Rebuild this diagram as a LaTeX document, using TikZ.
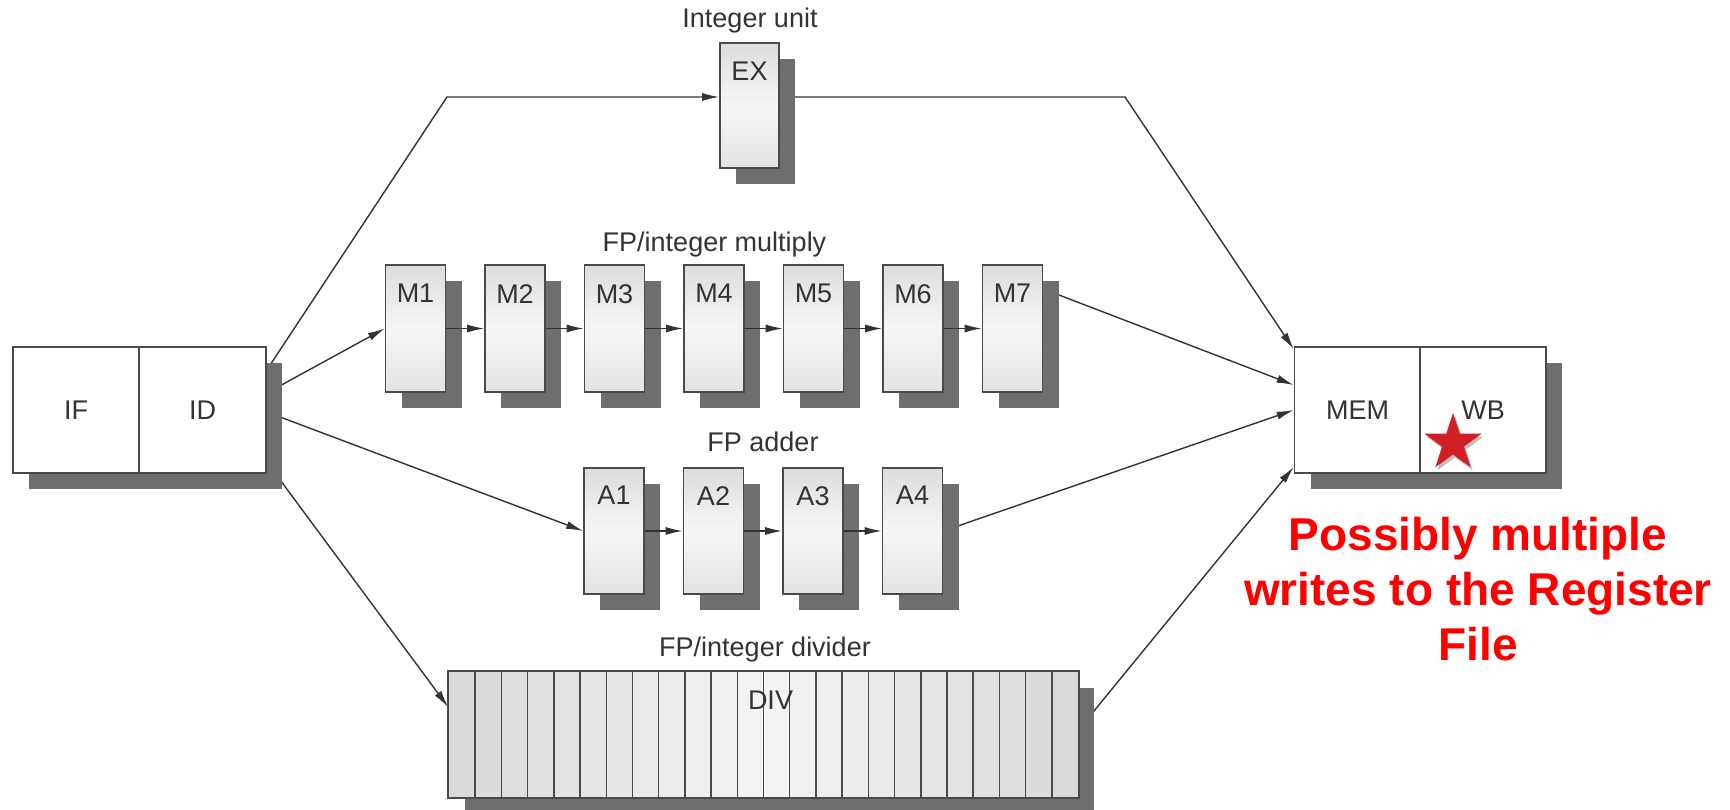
\documentclass[tikz,border=0pt]{standalone}
\usepackage{fontspec}
\setmainfont{Liberation Sans}
\usetikzlibrary{arrows.meta,shadows,shapes.geometric,backgrounds}
\definecolor{boxline}{HTML}{4A4A4A}
\definecolor{conn}{HTML}{333333}
\definecolor{shadecol}{HTML}{6E6E6E}
\definecolor{txt}{HTML}{333333}
\definecolor{starred}{HTML}{D21F26}
\definecolor{notered}{HTML}{FF0000}
\newcommand{\lblfont}{\fontsize{27}{32}\selectfont}
\begin{document}
\begin{tikzpicture}[x=1pt,y=-1pt,
  sh/.style={drop shadow={shadow xshift=16pt,shadow yshift=-16pt,fill=shadecol,opacity=1}},
  stagebox/.style={draw=boxline,line width=1.6pt,minimum width=60pt,minimum height=126pt,inner sep=0pt,sh,
     top color=gray!27,bottom color=gray!22,middle color=gray!7},
  whitebox/.style={draw=boxline,line width=1.6pt,fill=white,minimum width=126pt,minimum height=126pt,inner sep=0pt,text=txt,font=\lblfont},
  lbl/.style={inner sep=0pt,text=txt,font=\lblfont},
  connline/.style={draw=conn,line width=1.4pt},
  arr/.style={connline,-{Latex[length=17pt,width=8pt]}}
]
\useasboundingbox (0,0) rectangle (1730,809);

% IF / ID
\node[whitebox,sh] (if) at (76,410) {IF};
\node[whitebox,sh,minimum width=127pt] (id) at (202.5,410) {ID};

% MEM / WB
\node[whitebox,sh] (mem) at (1357.5,410) {MEM};
\node[whitebox,sh] (wb) at (1483,410) {WB};

% Integer unit
\node[stagebox,minimum width=59pt,minimum height=125pt] (ex) at (749.5,105.5) {};
\node[lbl,anchor=north] (ext) at ([yshift=-20pt]ex.north) {EX};
\node[lbl,anchor=base] (intlbl) at (750,27) {Integer unit};

% Multiplier
\foreach \i in {1,...,7}{
  \node[stagebox,minimum height=127pt] (m\i) at ({415.5+99.5*(\i-1)},328.5) {};
  \node[lbl,anchor=north] (mt\i) at ([yshift=-20pt]m\i.north) {M\i};
}
\node[lbl,anchor=base] (mullbl) at (714.5,251) {FP/integer multiply};

% Adder
\foreach \i in {1,...,4}{
  \node[stagebox] (a\i) at ({614+99.5*(\i-1)},531) {};
  \node[lbl,anchor=north] (at\i) at ([yshift=-19pt]a\i.north) {A\i};
}
\node[lbl,anchor=base] (addlbl) at (763,451) {FP adder};

% Divider
\node[draw=boxline,line width=1.6pt,minimum width=629pt,minimum height=125pt,inner sep=0pt,sh,
      fill=gray!20] (div) at (763.5,734.5) {};
\foreach \k in {0,...,23}{
  \pgfmathsetmacro{\tt}{(\k+0.5)/24}
  \pgfmathsetmacro{\pp}{9+21*abs(2*\tt-1)}
  \fill[gray!\pp] ({449+\k*629/24},672) rectangle ({449+(\k+1)*629/24},797);
}
\foreach \k in {1,...,23}{
  \draw[draw=boxline,line width=1.5pt] ({449+\k*629/24},672) -- ({449+\k*629/24},797);
}
\draw[draw=boxline,line width=1.6pt] (div.north west) rectangle (div.south east);
\node[lbl,anchor=north] (divt) at ([xshift=7pt,yshift=-20pt]div.north) {DIV};
\node[lbl,anchor=base] (divlbl) at (765,656) {FP/integer divider};

% corner coordinates
\coordinate (c1) at (447,97);
\coordinate (c2) at (1125,97);

% long connectors (under the shadows)
\begin{scope}[on background layer]
  \fill[white] (0,0) rectangle (1730,809);
  \draw[arr] ([yshift=40pt]id.east) -- (c1) -- ([yshift=8.5pt]ex.west);
  \draw[arr] ([yshift=8.5pt]ex.east) -- (c2) -- ([yshift=-3pt]mem.north west);
  \draw[arr] ([yshift=17pt]id.east) -- (m1.west);
  \draw[arr] ([yshift=-2pt]id.east) -- (a1.west);
  \draw[arr] ([yshift=-52pt]id.east) -- ([yshift=27.5pt]div.west);
  \draw[arr] ([yshift=39.5pt]m7.east) -- ([yshift=25pt]mem.west);
  \draw[arr] (a4.east) -- (mem.west);
  \draw[arr] ([yshift=5pt]div.east) -- ([yshift=-57pt]mem.west);
\end{scope}

% stage-to-stage arrows
\foreach \i/\j in {1/2,2/3,3/4,4/5,5/6,6/7}{
  \draw[arr] (m\i.east) -- (m\j.west);
}
\foreach \i/\j in {1/2,2/3,3/4}{
  \draw[arr] (a\i.east) -- (a\j.west);
}

% star
\node[star,star points=5,star point ratio=2.6,minimum size=60pt,inner sep=0pt,fill=starred,
      drop shadow={shadow xshift=2pt,shadow yshift=-3pt,fill=black,opacity=0.25}] (star) at (1453,443) {};

% note
\node[anchor=north,align=center,inner sep=0pt,text=notered,font=\fontsize{46}{55}\selectfont\bfseries] (note) at (1478,517)
  {Possibly multiple\\writes to the Register\\File};
\end{tikzpicture}
\end{document}
